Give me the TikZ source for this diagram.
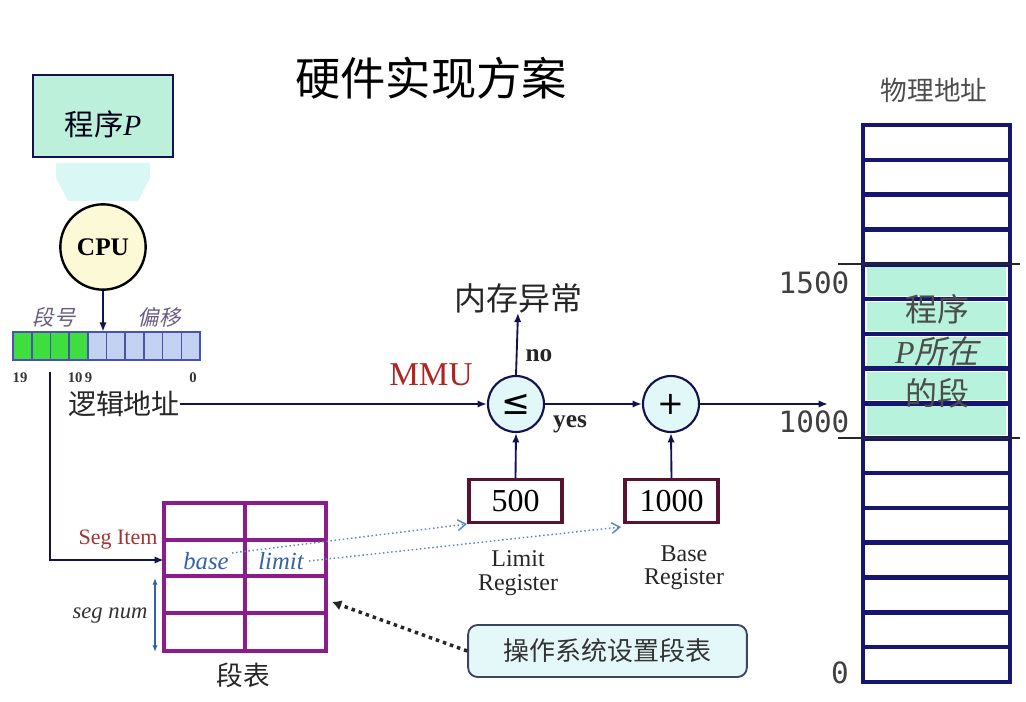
\documentclass[tikz,border=0pt]{standalone}
\usepackage{fontspec}
\setmainfont{Liberation Serif}
\newfontfamily\cjk{Noto Sans CJK SC}
\newfontfamily\cjksl[FakeSlant=0.22]{Noto Sans CJK SC}
\newfontfamily\monofont{DejaVu Sans Mono}
\newfontfamily\symfont{DejaVu Sans}
\usetikzlibrary{arrows.meta,calc}

\definecolor{navy}{HTML}{12124E}
\definecolor{memblue}{HTML}{161670}
\definecolor{mint}{HTML}{B6F2DC}
\definecolor{progfill}{HTML}{BDF0DA}
\definecolor{cpufill}{HTML}{FCFAD6}
\definecolor{opfill}{HTML}{E2F8F8}
\definecolor{regborder}{HTML}{5A1232}
\definecolor{tabpurple}{HTML}{8C1C8C}
\definecolor{mmured}{HTML}{B02424}
\definecolor{segred}{HTML}{A03434}
\definecolor{fieldblue}{HTML}{3462A4}
\definecolor{dotblue}{HTML}{5888C8}
\definecolor{bitgreen}{HTML}{3EDE3E}
\definecolor{bitblue}{HTML}{C4D2F2}
\definecolor{bitedge}{HTML}{4A52B0}
\definecolor{labgray}{HTML}{6A5C7C}
\definecolor{hintfill}{HTML}{D8F7F5}
\definecolor{osfill}{HTML}{E4F8FA}
\definecolor{osedge}{HTML}{3C4660}

\begin{document}
\begin{tikzpicture}[x=0.75pt,y=-0.75pt,
  txt/.style={inner sep=0pt, outer sep=0pt},
  flow/.style={draw=navy, line width=1.4pt, -{Latex[length=7pt,width=5.5pt]}},
  opcircle/.style={circle, draw=navy, line width=1.6pt, fill=opfill, minimum size=42pt, inner sep=0pt},
  regbox/.style={draw=regborder, line width=2.6pt, fill=white, minimum width=70pt, minimum height=32pt, inner sep=0pt, font=\fontsize{24}{26}\selectfont},
  bluedot/.style={draw=dotblue, line width=1.1pt, dotted, -{Straight Barb[length=6pt,width=8pt,line width=1.1pt]}},
  reglabel/.style={txt, align=center, font=\fontsize{18}{17.5}\selectfont, text=black!85},
  memline/.style={draw=memblue, line width=3.4pt},
  tabline/.style={draw=tabpurple, line width=3pt}
]
\useasboundingbox (0,0) rectangle (1026,702);

% title
\node[txt, font=\cjk\fontsize{34}{40}\selectfont] (title) at (431,78) {硬件实现方案};

% program P and CPU
\fill[hintfill] (56,163) -- (150,163) -- (150,178) -- (138,201) -- (68,201) -- (56,178) -- cycle;
\node[draw=navy, line width=2.2pt, fill=progfill, minimum width=105pt, minimum height=61.5pt] (prog) at (103,116) {};
\node[txt, font=\fontsize{22}{24}\selectfont, text=black!75!blue!40!black] (progtxt) at (103,124) {{\cjk 程序}\textit{P}};
\node[circle, draw=black, line width=1.8pt, fill=cpufill, minimum size=64pt, inner sep=0pt,
      font=\bfseries\fontsize{19}{20}\selectfont] (cpu) at (103,247) {CPU};

% logical address bits
\foreach \i in {0,...,3}
  \draw[bitedge, line width=1.2pt, fill=bitgreen] ({13+\i*18.7},332) rectangle ({13+(\i+1)*18.7},360);
\foreach \i in {4,...,9}
  \draw[bitedge, line width=1.2pt, fill=bitblue] ({13+\i*18.7},332) rectangle ({13+(\i+1)*18.7},360);
\node[minimum width=140.25pt, minimum height=21pt, inner sep=0pt] (bits) at (106.5,346) {};
\draw[flow] (cpu.south) -- (cpu.south |- bits.north);
\node[txt, font=\cjksl\fontsize{16}{18}\selectfont, text=labgray] (segno) at (54,317) {段号};
\node[txt, font=\cjksl\fontsize{16}{18}\selectfont, text=labgray] (offs) at (159,317) {偏移};
\node[txt, font=\bfseries\fontsize{11}{12}\selectfont, text=black!80] (b19) at (20,378) {19};
\node[txt, font=\bfseries\fontsize{11}{12}\selectfont, text=black!80] (b109) at (80,378) {10\,9};
\node[txt, font=\bfseries\fontsize{11}{12}\selectfont, text=black!80] (b0) at (193,378) {0};
\node[txt, font=\cjk\fontsize{21}{24}\selectfont, text=black!85] (laddr) at (124,404) {逻辑地址};

% MMU
\node[txt, font=\fontsize{25}{27}\selectfont, text=mmured] (mmu) at (431,375) {MMU};
\node[opcircle, font=\symfont\fontsize{26}{28}\selectfont] (leq) at (516,404) {≤};
\node[opcircle, font=\symfont\fontsize{24}{26}\selectfont] (plus) at (671,404) {+};
\node[txt, font=\cjk\fontsize{24}{26}\selectfont, text=black!85] (fault) at (518,298) {内存异常};
\node[txt, font=\bfseries\fontsize{19}{20}\selectfont, text=black!85] (no) at (539,356) {no};
\node[txt, font=\bfseries\fontsize{19}{20}\selectfont, text=black!85] (yes) at (570,424) {yes};
\node[regbox] (r500) at (515.5,501) {500};
\node[regbox] (r1000) at (671.5,501) {1000};
\node[reglabel] (limreg) at (518,573) {Limit\\Register};
\node[reglabel] (basereg) at (684,568) {Base\\Register};

\coordinate (physin) at (828,404);
\draw[flow] (laddr.east) -- (leq.west);
\draw[flow] (leq.north) -- (fault.south);
\draw[flow] (leq.east) -- (plus.west);
\draw[flow] (plus.east) -- (physin);
\draw[flow] (r500.north) -- (leq.south);
\draw[flow] (r1000.north) -- (plus.south);

% segment table
\node[minimum width=121.5pt, minimum height=111pt, inner sep=0pt] (segtab) at (245,577) {};
\draw[tabline] (245,503) -- (245,651);
\foreach \y in {540,576.5,613}
  \draw[tabline] (164,\y) -- (326,\y);
\draw[tabline] (164,503) rectangle (326,651);
\node[txt, font=\fontsize{16.5}{18}\selectfont, text=segred] (segitem) at (118,540) {Seg Item};
\node[txt, font=\itshape\fontsize{18.5}{20}\selectfont, text=fieldblue] (base) at (206,561) {base};
\node[txt, font=\itshape\fontsize{18.5}{20}\selectfont, text=fieldblue] (limit) at (281,561) {limit};
\node[txt, font=\itshape\fontsize{17}{18}\selectfont, text=black!80] (segnum) at (110,616) {seg num};
\node[txt, font=\cjk\fontsize{20}{22}\selectfont, text=black!85] (tabname) at (243,675) {段表};
\draw[fieldblue, line width=1.1pt, {Latex[length=5pt,width=4pt]}-{Latex[length=5pt,width=4pt]}] (155,578) -- (155,652);

\coordinate (segin) at (164,560);
\coordinate (drop) at (50,372);
\draw[flow] (drop) |- (segin);

\coordinate (basefrom) at (232,553);
\coordinate (basetip) at (467,524);
\coordinate (limfrom) at (309,561);
\coordinate (limtip) at (621,527);
\draw[bluedot] (basefrom) -- (basetip);
\draw[bluedot] (limfrom) -- (limtip);

% operating system note
\node[draw=osedge, line width=1.4pt, fill=osfill, rounded corners=7pt, minimum width=209pt, minimum height=39pt,
      font=\cjk\fontsize{19.5}{22}\selectfont, text=black!80] (os) at (607.5,651) {操作系统设置段表};
\coordinate (ostip) at (332,602);
\draw[black!85, line width=2.6pt, dash pattern=on 2.6pt off 3pt, -{Latex[length=7pt,width=8pt]}] (os.west) -- (ostip);

% physical memory
\foreach \i in {4,...,8}
  \fill[mint] (867,{125+\i*34.8125+3}) rectangle (1006,{125+(\i+1)*34.8125-3});
\foreach \i in {1,...,15}
  \draw[memline] (863,{125+\i*34.8125}) -- (1010,{125+\i*34.8125});
\node[draw=memblue, line width=3.4pt, minimum width=110.25pt, minimum height=417.75pt, inner sep=0pt] (mem) at (936.5,403.5) {};
\node[txt, font=\cjk\fontsize{20}{22}\selectfont, text=black!70] (physlab) at (934,90) {物理地址};
\draw[black!85, line width=1.2pt] (838,264.25) -- (1020,264.25);
\draw[black!85, line width=1.2pt] (838,438.1) -- (1020,438.1);
\node[txt, font=\monofont\fontsize{22}{24}\selectfont, text=black!75] (a1500) at (814,283) {1500};
\node[txt, font=\monofont\fontsize{22}{24}\selectfont, text=black!75] (a1000) at (814,422) {1000};
\node[txt, font=\monofont\fontsize{22}{24}\selectfont, text=black!75] (a0) at (840,673) {0};
\node[txt, align=center, font=\cjk\fontsize{24}{31.5}\selectfont, text=black!70] (pseg) at (937,351)
  {程序\\{\rmfamily\itshape P}{\cjksl 所在}\\的段};
\end{tikzpicture}
\end{document}
